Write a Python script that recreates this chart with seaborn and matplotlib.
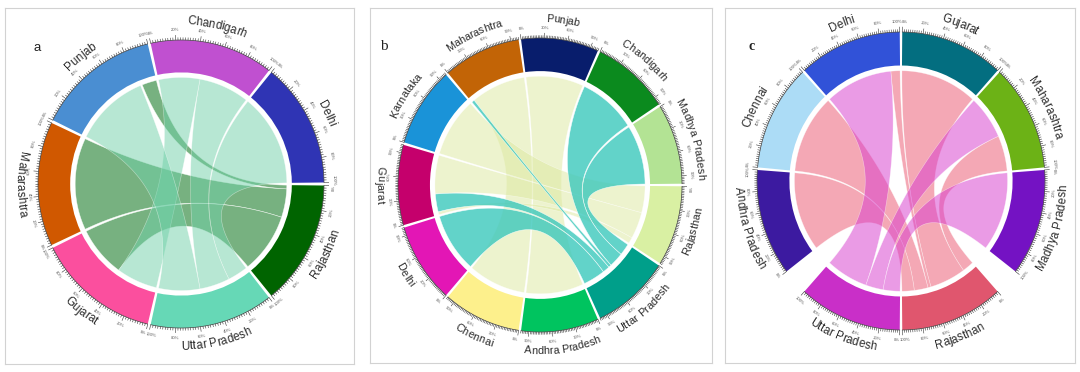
import numpy as np
import matplotlib
matplotlib.use("Agg")
import matplotlib.pyplot as plt
from matplotlib.patches import Wedge, Polygon
from matplotlib.collections import LineCollection
from matplotlib.font_manager import FontProperties
import seaborn as sns

sns.set_theme(style="white")
plt.rcParams["font.family"] = ["Liberation Sans", "DejaVu Sans"]

# ---------------- data ----------------
# panel a : sectors clockwise from 3 o'clock, every sector scaled to 100 %
a_sectors = ["Rajasthan", "Uttar Pradesh", "Gujarat", "Maharashtra", "Punjab", "Chandigarh", "Delhi"]
a_colors = ["#006400", "#66d8b6", "#fb4f9e", "#d05800", "#4a8ed2", "#c050d0", "#2f34b4"]
a_gaps = [1.2, 1.2, 1.2, 1.2, 1.2, 1.2, 1.2]
# (from, from %start, from %end, to, to %start, to %end, kind)
a_links = [
    ("Maharashtra", 0, 100, "Rajasthan", 4, 35, "dark"),
    ("Gujarat", 45, 100, "Rajasthan", 35, 100, "dark"),
    ("Punjab", 84, 100, "Rajasthan", 0, 4, "dark"),
    ("Delhi", 0, 100, "Uttar Pradesh", 0, 22, "light"),
    ("Chandigarh", 45, 100, "Uttar Pradesh", 22, 55, "light"),
    ("Chandigarh", 0, 45, "Gujarat", 0, 45, "light"),
    ("Punjab", 0, 82, "Uttar Pradesh", 55, 100, "light"),
]
a_link_colors = {"dark": ("#3e914a", 0.7), "light": ("#71d1a9", 0.5)}

# panel b
b_sectors = ["Rajasthan", "Uttar Pradesh", "Andhra Pradesh", "Chennai", "Delhi", "Gujarat",
             "Karnataka", "Maharashtra", "Punjab", "Chandigarh", "Madhya Pradesh"]
b_colors = ["#d9f0a3", "#009f8a", "#00c45f", "#fdf08c", "#e316b5", "#c5006c",
            "#1a93d8", "#c26406", "#081d6c", "#0b8a1e", "#b3e394"]
b_gaps = [1.0] * 11
b_links = [
    ("Punjab", 0, 100, "Andhra Pradesh", 0, 100, "pale"),
    ("Maharashtra", 5, 100, "Chennai", 0, 100, "pale"),
    ("Karnataka", 0, 100, "Rajasthan", 0, 45, "pale"),
    ("Gujarat", 35, 100, "Rajasthan", 45, 90, "pale"),
    ("Gujarat", 0, 5, "Rajasthan", 90, 100, "pale"),
    ("Madhya Pradesh", 0, 100, "Uttar Pradesh", 0, 20, "teal"),
    ("Chandigarh", 0, 100, "Uttar Pradesh", 20, 45, "teal"),
    ("Maharashtra", 0, 5, "Uttar Pradesh", 45, 50, "teal"),
    ("Gujarat", 5, 35, "Uttar Pradesh", 50, 62, "teal"),
    ("Delhi", 0, 100, "Uttar Pradesh", 62, 100, "teal"),
]
b_link_colors = {"pale": ("#dde99f", 0.5), "teal": ("#3bc8bc", 0.8)}

# panel c : starts at 12 o'clock, two wide gaps
c_sectors = ["Gujarat", "Maharashtra", "Madhya Pradesh", "Rajasthan", "Uttar Pradesh",
             "Andhra Pradesh", "Chennai", "Delhi"]
c_colors = ["#036e80", "#6cb216", "#7412c3", "#e0566e", "#c92fc8", "#3c1aa0", "#acdcf6", "#3152d8"]
c_gaps = [1.0, 1.0, 10.5, 1.0, 10.5, 1.0, 1.0, 1.0]
c_links = [
    ("Maharashtra", 55, 100, "Rajasthan", 0, 15, "pink"),
    ("Gujarat", 0, 100, "Rajasthan", 15, 62, "pink"),
    ("Delhi", 88, 100, "Rajasthan", 62, 66, "pink"),
    ("Chennai", 0, 100, "Rajasthan", 66, 84, "pink"),
    ("Andhra Pradesh", 0, 100, "Rajasthan", 84, 100, "pink"),
    ("Delhi", 0, 88, "Uttar Pradesh", 45, 100, "orchid"),
    ("Maharashtra", 0, 55, "Uttar Pradesh", 22, 45, "orchid"),
    ("Madhya Pradesh", 0, 100, "Uttar Pradesh", 0, 22, "orchid"),
]
c_link_colors = {"pink": ("#eb536d", 0.5), "orchid": ("#d739cd", 0.5)}

W, H = 1080, 372
fig = plt.figure(figsize=(W / 100, H / 100), dpi=100)
renderer = fig.canvas.get_renderer()


def panel_axes(box, center, radii):
    left, top, right, bottom = box
    cx, cy = center
    rx, ry = radii
    ax = fig.add_axes([left / W, 1 - bottom / H, (right - left) / W, (bottom - top) / H])
    ax.set_xlim((left - cx) / rx, (right - cx) / rx)
    ax.set_ylim((cy - bottom) / ry, (cy - top) / ry)
    ax.set_xticks([])
    ax.set_yticks([])
    for s in ax.spines.values():
        s.set_color("#d2d2d2")
        s.set_linewidth(0.8)
    return ax


def upper(theta):
    t = (theta + 180) % 360 - 180
    return 0 < t < 180


def tangent_rot(theta, up):
    return theta - 90 if up else theta + 90


def xy(theta, r):
    t = np.deg2rad(theta)
    return np.array([r * np.cos(t), r * np.sin(t)])


def arc_pts(t0, t1, r, n=50):
    th = np.deg2rad(np.linspace(t0, t1, n))
    return np.column_stack([r * np.cos(th), r * np.sin(th)])


def bez_pts(p0, p2, n=60):
    t = np.linspace(0, 1, n)[:, None]
    return (1 - t) ** 2 * p0 + t ** 2 * p2   # control point at the centre


def bent_text(ax, s, mid, r, r_px, size):
    # place the name letter by letter along the circle
    prop = FontProperties(family=["Liberation Sans", "DejaVu Sans"], size=size)

    def tw(t):
        return renderer.get_text_width_height_descent(t, prop, ismath=False)[0]

    total = tw(s + "l") - tw("l")
    up = upper(mid)
    for i, ch in enumerate(s):
        if ch == " ":
            continue
        left = tw(s[:i] + "l") - tw("l") if i else 0.0
        cw = tw("l" + ch + "l") - tw("ll")
        off = left + cw / 2 - total / 2
        dth = np.rad2deg(off / r_px)
        th = mid - dth if up else mid + dth
        x, y = xy(th, r)
        ax.text(x, y, ch, fontproperties=prop, color="#2a2a2a", rotation=tangent_rot(th, up),
                ha="center", va="center", rotation_mode="anchor", zorder=4)


def chord_diagram(ax, radii, sectors, colors, gaps, links, link_colors, start=0.0,
                  label_step=20, name_size=8.4, r_in=0.775, r_link=0.74, r_name=1.13):
    n = len(sectors)
    span = (360 - sum(gaps)) / n
    r_px = r_name * (radii[0] + radii[1]) / 2
    starts = {}
    a = start - gaps[-1] / 2
    for name, g in zip(sectors, gaps):
        starts[name] = a
        a = a - span - g

    def ang(name, p):
        return starts[name] - span * p / 100

    # sector band, ruler and names
    for name, col in zip(sectors, colors):
        t0 = starts[name]
        ax.add_patch(Wedge((0, 0), 1.0, t0 - span, t0, width=1.0 - r_in,
                           facecolor=col, edgecolor="none", zorder=2))
        base = arc_pts(t0, t0 - span, 1.0)
        ax.plot(base[:, 0], base[:, 1], color="#444444", lw=0.5, zorder=3)
        segs = []
        for p in np.arange(0, 100.1, 2):
            th = ang(name, p)
            major = p % label_step == 0
            segs.append([xy(th, 1.0), xy(th, 1.035 if major else 1.018)])
        ax.add_collection(LineCollection(segs, colors="#333333", linewidths=0.4, zorder=3))
        for p in range(0, 101, label_step):
            th = ang(name, p)
            if p == 0:
                th -= 0.9
            elif p == 100:
                th += 0.9
            x, y = xy(th, 1.068)
            ax.text(x, y, f"{p}%", fontsize=3.1, color="#555555",
                    rotation=tangent_rot(th, upper(th)),
                    ha="center", va="center", rotation_mode="anchor", zorder=4)
        bent_text(ax, name, t0 - span / 2, r_name, r_px, name_size)

    # links
    for src, s0, s1, dst, d0, d1, kind in links:
        col, alpha = link_colors[kind]
        a0, a1 = ang(src, s0), ang(src, s1)
        b0, b1 = ang(dst, d0), ang(dst, d1)
        pts = np.vstack([arc_pts(a0, a1, r_link),
                         bez_pts(xy(a1, r_link), xy(b0, r_link)),
                         arc_pts(b0, b1, r_link),
                         bez_pts(xy(b1, r_link), xy(a0, r_link))])
        ax.add_patch(Polygon(pts, closed=True, facecolor=col, alpha=alpha,
                             edgecolor="white", linewidth=0.4, zorder=1))


ax_a = panel_axes((5, 8, 354, 364), (181, 184), (143, 144))
chord_diagram(ax_a, (143, 144), a_sectors, a_colors, a_gaps, a_links, a_link_colors,
              start=0, label_step=20)

ax_b = panel_axes((370, 8, 712, 363), (540, 185), (142, 147))
chord_diagram(ax_b, (142, 147), b_sectors, b_colors, b_gaps, b_links, b_link_colors,
              start=0, label_step=30, name_size=7.8)

ax_c = panel_axes((725, 8, 1075, 363), (901, 181), (144, 149))
chord_diagram(ax_c, (144, 149), c_sectors, c_colors, c_gaps, c_links, c_link_colors,
              start=90, label_step=20)

fig.text(37 / W, 1 - 48 / H, "a", fontsize=9.5, color="#222222", ha="center", va="center")
fig.text(384 / W, 1 - 47 / H, "b", fontsize=11, color="#222222", ha="center", va="center",
         family=["Liberation Serif", "DejaVu Serif"])
fig.text(752 / W, 1 - 47 / H, "c", fontsize=10, color="#222222", ha="center", va="center",
         family=["Liberation Serif", "DejaVu Serif"], fontweight="bold")

fig.savefig("out.png", dpi=100, facecolor="white")
